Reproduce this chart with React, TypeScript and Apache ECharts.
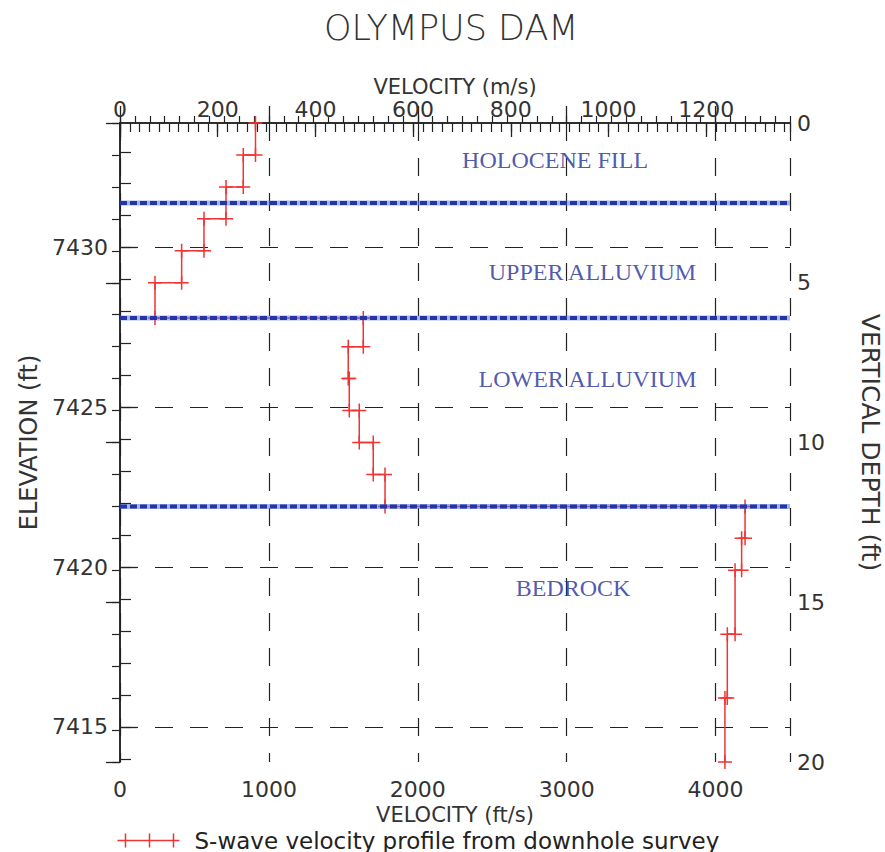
import React, { useEffect, useRef } from "react";
import * as echarts from "echarts";

// ---- data ----
const layerTopDepthFt = [0, 1, 2, 3, 4, 5, 6.1, 7, 8, 9, 10, 11, 12, 13, 14, 16, 18];
const layerVelocityFtS = [910, 828, 712, 564, 414, 235, 1634, 1533, 1540, 1607, 1701, 1780, 4198, 4175, 4131, 4079, 4063];
const profileBottomDepthFt = 20;

const layerBoundaryDepthFt = [2.5, 6.1, 12.0];

const layerNames = ["HOLOCENE FILL", "UPPER ALLUVIUM", "LOWER ALLUVIUM", "BEDROCK"];
const layerLabelVelocityFtS = [2922, 3173, 3140, 3043];
const layerLabelDepthFt = [1.17, 4.66, 8.0, 14.56];

const groundElevationFt = 7433.9;
const depthRangeFt = 20;
const elevationMajorTicks = [7415, 7420, 7425, 7430];
const elevationMinorTicks = [7414, 7415, 7416, 7417, 7418, 7419, 7420, 7421, 7422, 7423, 7424, 7425, 7426, 7427, 7428, 7429, 7430, 7431, 7432, 7433];

const velocityMaxFtS = 4500;
const FT_PER_M = 3.28084;

const legendName = "S-wave velocity profile from downhole survey";

const RED = "#f03434";
const BLUE = "#2535a8";
const AX = "#222";
const FONT = "DejaVu Sans";

const plain = (v: number) => String(v);

export default function App() {
  const ref = useRef<HTMLDivElement>(null);

  useEffect(() => {
    const chart = echarts.init(ref.current!, null, { renderer: "svg" });

    const profilePoints: number[][] = [];
    layerTopDepthFt.forEach((d, i) => {
      const v = layerVelocityFtS[i];
      const next = i + 1 < layerTopDepthFt.length ? layerTopDepthFt[i + 1] : profileBottomDepthFt;
      profilePoints.push([v, d], [v, next]);
    });

    const labelStyle = { fontFamily: FONT, fontSize: 22, color: "#333", formatter: plain };
    const lineAx = { show: true, lineStyle: { color: AX, width: 1.5 } };
    const gridDash = { show: true, lineStyle: { color: "#222", width: 1.2, type: [18, 17] as any } };

    const boundarySeries: any[] = [];
    layerBoundaryDepthFt.forEach((d) => {
      boundarySeries.push({
        type: "line",
        xAxisIndex: 0,
        yAxisIndex: 0,
        silent: true,
        symbol: "none",
        data: [[0, d], [velocityMaxFtS, d]],
        lineStyle: { color: "rgba(90,120,215,0.55)", width: 5 },
        z: 5,
      });
      boundarySeries.push({
        type: "line",
        xAxisIndex: 0,
        yAxisIndex: 0,
        silent: true,
        symbol: "none",
        data: [[0, d], [velocityMaxFtS, d]],
        lineStyle: { color: BLUE, width: 4, type: [7, 3] },
        z: 6,
      });
    });

    const option: any = {
      animation: false,
      backgroundColor: "#fff",
      title: {
        text: "OLYMPUS DAM",
        left: 319,
        top: 5,
        textStyle: { fontFamily: FONT, fontSize: 35, fontWeight: 200, color: "#333" },
      },
      legend: {
        data: [{ name: legendName, icon: "path://M0,7L62,7M8,0L8,14M32,0L32,14M56,0L56,14" }],
        left: 115,
        top: 829,
        padding: 0,
        itemWidth: 62,
        itemHeight: 14,
        itemStyle: { color: "none", borderColor: RED, borderWidth: 1.5 },
        textStyle: { fontFamily: FONT, fontSize: 23, color: "#222", padding: [0, 0, 0, 10] },
      },
      grid: { left: 120, right: 95, top: 123, bottom: 90, containLabel: false, outerBoundsMode: "none" },
      xAxis: [
        {
          type: "value",
          position: "bottom",
          min: 0,
          max: velocityMaxFtS,
          interval: 1000,
          axisLine: lineAx,
          axisTick: { show: true, inside: true, length: 17, lineStyle: { color: AX, width: 1.3 } },
          axisLabel: { ...labelStyle, margin: 16, showMaxLabel: false },
          splitLine: gridDash,
          name: "VELOCITY (ft/s)",
          nameLocation: "middle",
          nameGap: 42,
          nameMoveOverlap: false,
          nameTextStyle: { fontFamily: FONT, fontSize: 21, color: "#333" },
        },
        {
          type: "value",
          position: "bottom",
          min: 0,
          max: velocityMaxFtS,
          interval: 100,
          axisLine: { show: false },
          axisTick: { show: true, inside: true, length: 7, lineStyle: { color: AX, width: 1.2 } },
          axisLabel: { show: false },
          splitLine: { show: false },
        },
        {
          type: "value",
          position: "top",
          min: 0,
          max: velocityMaxFtS / FT_PER_M,
          interval: 200,
          axisLine: lineAx,
          axisTick: { show: true, inside: true, length: 14, lineStyle: { color: AX, width: 1.3 } },
          axisLabel: { ...labelStyle, margin: 3, showMaxLabel: false },
          splitLine: { show: false },
          name: "VELOCITY (m/s)",
          nameLocation: "middle",
          nameGap: 26,
          nameMoveOverlap: false,
          nameTextStyle: { fontFamily: FONT, fontSize: 21, color: "#333" },
        },
        {
          type: "value",
          position: "top",
          min: 0,
          max: velocityMaxFtS / FT_PER_M,
          interval: 20,
          axisLine: { show: false },
          axisTick: { show: true, inside: true, length: 9, lineStyle: { color: AX, width: 1.2 } },
          axisLabel: { show: false },
          splitLine: { show: false },
        },
      ],
      yAxis: [
        {
          type: "value",
          position: "right",
          min: 0,
          max: depthRangeFt,
          inverse: true,
          interval: 5,
          axisLine: lineAx,
          axisTick: { show: true, inside: true, length: 14, lineStyle: { color: AX, width: 1.3 } },
          axisLabel: { ...labelStyle, margin: 7 },
          splitLine: { show: false },
          name: "VERTICAL DEPTH (ft)",
          nameLocation: "middle",
          nameRotate: -90,
          nameGap: 68,
          nameTextStyle: { fontFamily: FONT, fontSize: 25, color: "#333" },
        },
        {
          type: "value",
          position: "right",
          min: 0,
          max: depthRangeFt,
          inverse: true,
          interval: 1,
          axisLine: { show: false },
          axisTick: { show: true, inside: true, length: 8, lineStyle: { color: AX, width: 1.2 } },
          axisLabel: { show: false },
          splitLine: { show: false },
        },
        {
          type: "value",
          position: "left",
          min: groundElevationFt - depthRangeFt,
          max: groundElevationFt,
          axisLine: lineAx,
          axisTick: { show: true, inside: true, length: 17, customValues: elevationMajorTicks, lineStyle: { color: AX, width: 1.3 } },
          axisLabel: { ...labelStyle, margin: 12, customValues: elevationMajorTicks },
          splitLine: gridDash,
          name: "ELEVATION (ft)",
          nameLocation: "middle",
          nameGap: 70,
          nameTextStyle: { fontFamily: FONT, fontSize: 24, color: "#333" },
        },
        {
          type: "value",
          position: "left",
          min: groundElevationFt - depthRangeFt,
          max: groundElevationFt,
          axisLine: { show: false },
          axisTick: { show: true, inside: true, length: 11, customValues: elevationMinorTicks, lineStyle: { color: AX, width: 1.2 } },
          axisLabel: { show: false },
          splitLine: { show: false },
        },
      ],
      series: [
        {
          name: legendName,
          type: "line",
          xAxisIndex: 0,
          yAxisIndex: 0,
          data: profilePoints,
          showAllSymbol: true,
          symbol: "path://M7,0L7,14M0,7L14,7",
          symbolSize: 14,
          lineStyle: { color: RED, width: 1.5 },
          itemStyle: { color: RED, borderColor: RED, borderWidth: 1.5 },
          z: 4,
        },
        ...boundarySeries,
        {
          type: "scatter",
          xAxisIndex: 0,
          yAxisIndex: 0,
          silent: true,
          symbolSize: 0,
          data: layerNames.map((n, i) => ({ name: n, value: [layerLabelVelocityFtS[i], layerLabelDepthFt[i]] })),
          label: {
            show: true,
            position: "inside",
            formatter: "{b}",
            fontFamily: "Liberation Serif",
            fontSize: 24,
            color: "#1f2f9a",
          },
          z: 7,
        },
      ],
    };

    chart.setOption(option);
    return () => chart.dispose();
  }, []);

  return <div ref={ref} style={{ position: "fixed", left: 0, top: 0, width: 885, height: 852 }} />;
}
